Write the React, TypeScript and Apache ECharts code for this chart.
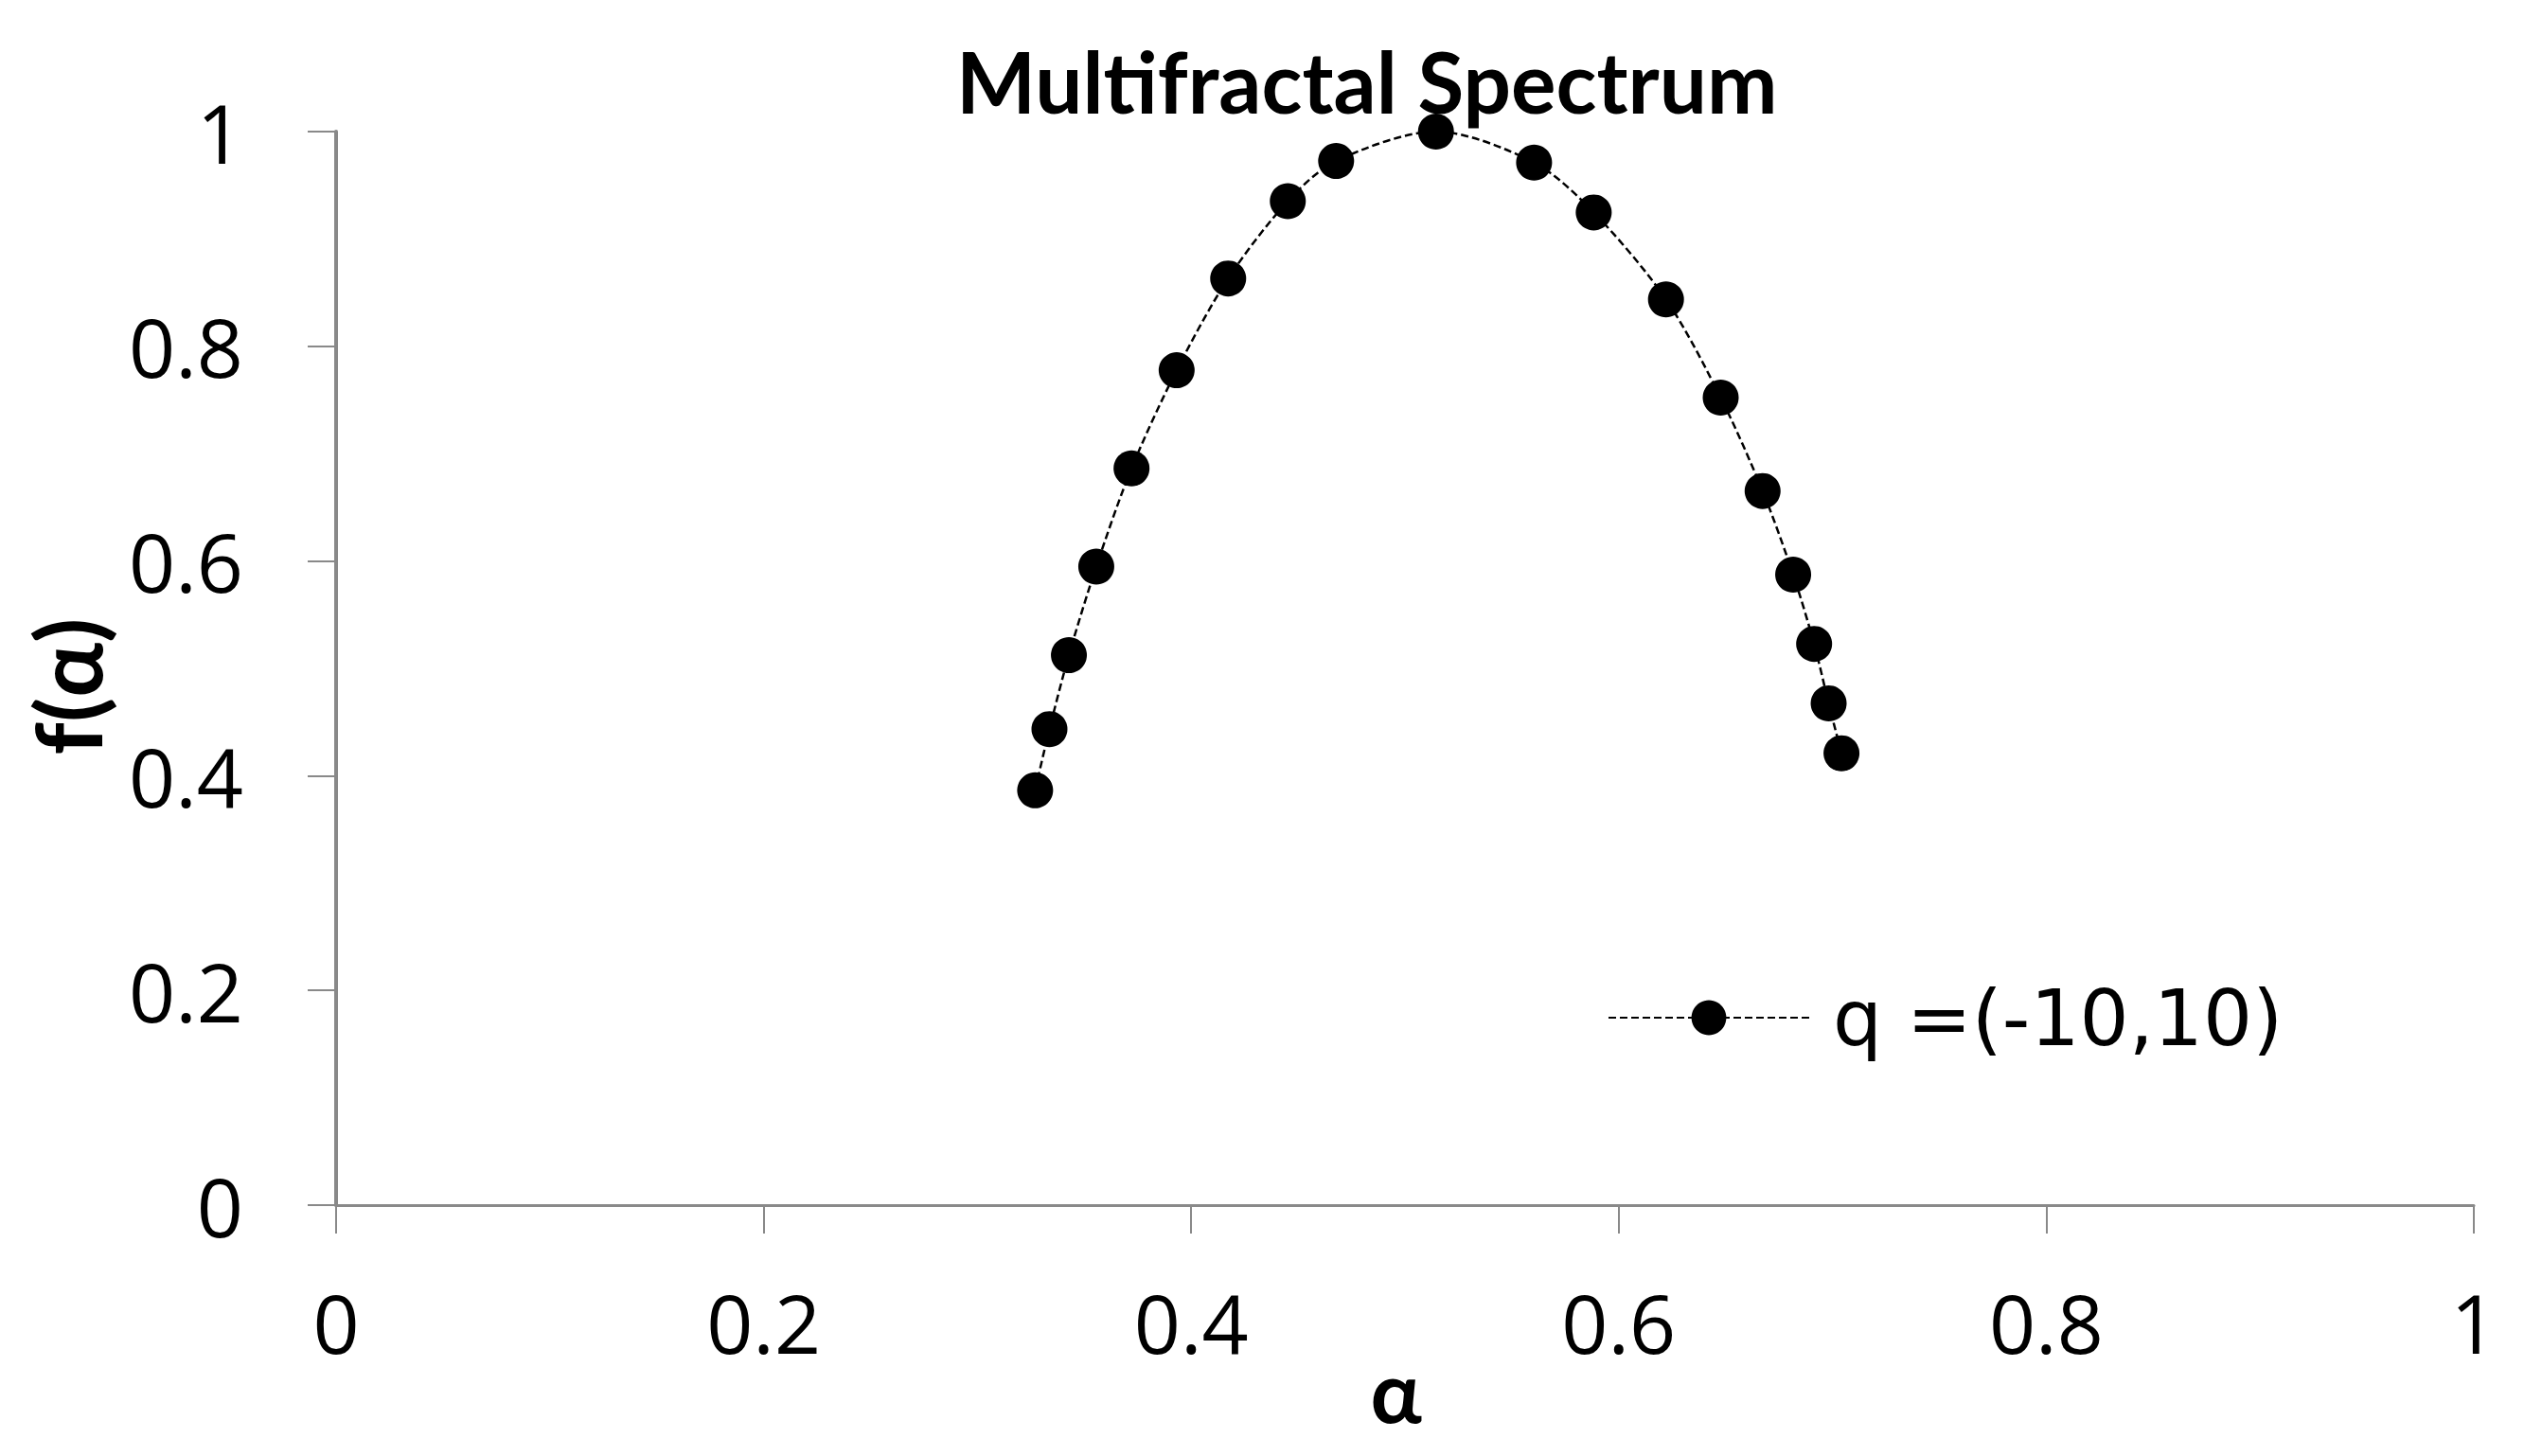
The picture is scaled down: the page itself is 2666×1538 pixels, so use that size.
import React, { useEffect, useRef } from "react";
import * as echarts from "echarts";

const alphaValues = [
  0.327, 0.3337, 0.3428, 0.3556, 0.3721, 0.3932, 0.4173, 0.4452, 0.4678, 0.5145,
  0.5604, 0.5883, 0.6221, 0.6477, 0.6673, 0.6816, 0.6914, 0.6982, 0.7042,
];
const fAlphaValues = [
  0.3864, 0.4434, 0.5123, 0.5948, 0.6863, 0.7777, 0.8632, 0.9352, 0.9726, 1.0,
  0.9711, 0.9247, 0.8437, 0.7522, 0.6652, 0.5873, 0.5228, 0.4674, 0.4209,
];
const seriesName = "q =(-10,10)";
const titleText = "Multifractal Spectrum";
const xAxisName = "α";
const yAxisName = "f(α)";

export default function App() {
  const ref = useRef<HTMLDivElement>(null);
  useEffect(() => {
    if (!ref.current) return;
    const chart = echarts.init(ref.current, undefined, { renderer: "svg" });
    const axisColor = "#898989";
    const tickFont = { fontFamily: "Open Sans", fontSize: 86, color: "#000" };
    chart.setOption({
      animation: false,
      backgroundColor: "#fff",
      title: {
        text: titleText,
        left: 997,
        top: 28,
        textStyle: { fontFamily: "Lato", fontWeight: "bold", fontSize: 89, color: "#000" },
      },
      grid: {
        left: 347,
        right: 45,
        top: 131,
        bottom: 257,
        containLabel: false,
        outerBoundsMode: "none",
      },
      legend: {
        left: 1685,
        top: 1021,
        itemWidth: 212,
        itemHeight: 46,
        data: [seriesName],
        textStyle: { fontFamily: "DejaVu Sans", fontSize: 82, color: "#000", padding: [0, 0, 0, 20] },
      },
      xAxis: {
        type: "value",
        min: 0,
        max: 1,
        interval: 0.2,
        name: xAxisName,
        nameLocation: "middle",
        nameGap: 150,
        nameMoveOverlap: false,
        nameTextStyle: { fontFamily: "Lato", fontWeight: "bold", fontSize: 90, color: "#000", padding: [0, 19, 0, 0] },
        axisLine: { show: true, lineStyle: { color: axisColor, width: 3 } },
        axisTick: { show: true, length: 30, lineStyle: { color: axisColor, width: 2 } },
        axisLabel: { ...tickFont, margin: 80 },
        splitLine: { show: false },
      },
      yAxis: {
        type: "value",
        min: 0,
        max: 1,
        interval: 0.2,
        name: yAxisName,
        nameLocation: "middle",
        nameGap: 237,
        nameMoveOverlap: false,
        nameTextStyle: { fontFamily: "Lato", fontWeight: "bold", fontSize: 96, color: "#000", padding: [0, 38, 0, 0] },
        axisLine: { show: true, lineStyle: { color: axisColor, width: 4 } },
        axisTick: { show: true, length: 30, lineStyle: { color: axisColor, width: 2 } },
        axisLabel: { ...tickFont, margin: 98 },
        splitLine: { show: false },
      },
      series: [
        {
          name: seriesName,
          type: "line",
          smooth: 0.3,
          data: alphaValues.map((a, i) => [a, fAlphaValues[i]]),
          symbol: "circle",
          symbolSize: 38,
          itemStyle: { color: "#000" },
          lineStyle: { color: "#000", width: 2.5, type: [8, 4] },
        },
      ],
    });
    return () => chart.dispose();
  }, []);
  return <div ref={ref} style={{ width: 2650, height: 1522 }} />;
}
